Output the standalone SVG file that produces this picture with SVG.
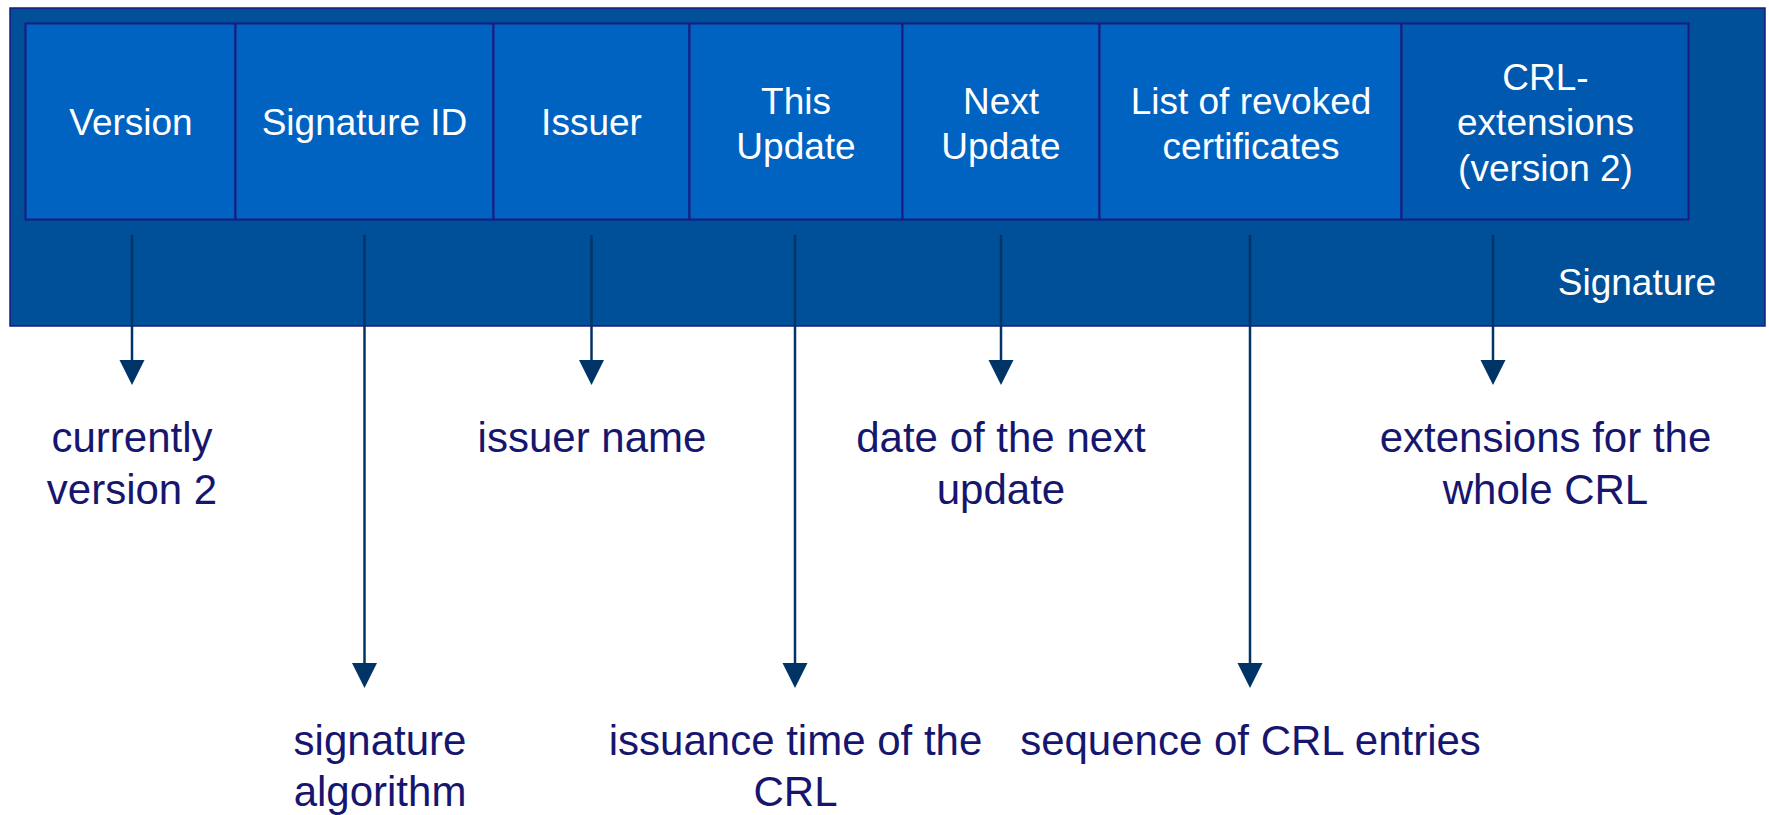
<svg xmlns="http://www.w3.org/2000/svg" width="1769" height="815" viewBox="0 0 1769 815">
<style>
.frame{fill:#004F99;stroke:#1A1A80;stroke-width:1.5}
.cell{fill:#0062C1;stroke:#1A1A80;stroke-width:2}
.cell2{fill:#0058AF;stroke:#1A1A80;stroke-width:2}
.w{font-family:"Liberation Sans",Arial,sans-serif;font-size:37px;fill:#FFFFFF;text-anchor:middle}
.lbl{font-family:"Liberation Sans",Arial,sans-serif;font-size:42px;fill:#16166E;text-anchor:middle}
.conn line{stroke:#003366;stroke-width:2.5}
</style>
<defs>
<marker id="ah" markerUnits="userSpaceOnUse" markerWidth="26" markerHeight="26" refX="0" refY="12.5" orient="auto" viewBox="0 0 26 26">
<path d="M0,0 L25,12.5 L0,25 z" fill="#003366"/>
</marker>
</defs>
<g id="signature-frame">
<rect class="frame" x="10" y="8" width="1755" height="318"/>
<text class="w" x="1637" y="295">Signature</text>
</g>
<g id="version"><rect class="cell" x="25.5" y="23.5" width="210" height="196"/><text class="w" x="131" y="135">Version</text></g>
<g id="signature-id"><rect class="cell" x="235.5" y="23.5" width="258" height="196"/><text class="w" x="364.5" y="135">Signature ID</text></g>
<g id="issuer"><rect class="cell" x="493.5" y="23.5" width="196" height="196"/><text class="w" x="591.5" y="135">Issuer</text></g>
<g id="this-update"><rect class="cell" x="689.5" y="23.5" width="213" height="196"/><text class="w" x="796" y="114">This</text><text class="w" x="796" y="159">Update</text></g>
<g id="next-update"><rect class="cell" x="902.5" y="23.5" width="197" height="196"/><text class="w" x="1001" y="114">Next</text><text class="w" x="1001" y="159">Update</text></g>
<g id="revoked-list"><rect class="cell" x="1099.5" y="23.5" width="302" height="196"/><text class="w" x="1251" y="114">List of revoked</text><text class="w" x="1251" y="159">certificates</text></g>
<g id="crl-extensions"><rect class="cell2" x="1401.5" y="23.5" width="287" height="196"/><text class="w" x="1545.5" y="90">CRL-</text><text class="w" x="1545.5" y="135">extensions</text><text class="w" x="1545.5" y="181">(version 2)</text></g>
<g id="connectors" class="conn">
<line x1="132" y1="235" x2="132" y2="360" marker-end="url(#ah)"/>
<line x1="364.5" y1="235" x2="364.5" y2="663" marker-end="url(#ah)"/>
<line x1="591.5" y1="235" x2="591.5" y2="360" marker-end="url(#ah)"/>
<line x1="795" y1="235" x2="795" y2="663" marker-end="url(#ah)"/>
<line x1="1001" y1="235" x2="1001" y2="360" marker-end="url(#ah)"/>
<line x1="1250" y1="235" x2="1250" y2="663" marker-end="url(#ah)"/>
<line x1="1493" y1="235" x2="1493" y2="360" marker-end="url(#ah)"/>
</g>
<g id="label-version"><text class="lbl" x="132" y="452">currently</text><text class="lbl" x="132" y="504">version 2</text></g>
<g id="label-signature"><text class="lbl" x="380" y="755">signature</text><text class="lbl" x="380" y="806">algorithm</text></g>
<g id="label-issuer"><text class="lbl" x="592" y="452">issuer name</text></g>
<g id="label-this-update"><text class="lbl" x="795.5" y="755">issuance time of the</text><text class="lbl" x="795.5" y="806">CRL</text></g>
<g id="label-next-update"><text class="lbl" x="1001" y="452">date of the next</text><text class="lbl" x="1001" y="504">update</text></g>
<g id="label-revoked"><text class="lbl" x="1250.5" y="755">sequence of CRL entries</text></g>
<g id="label-extensions"><text class="lbl" x="1545.5" y="452">extensions for the</text><text class="lbl" x="1545.5" y="504">whole CRL</text></g>
</svg>
